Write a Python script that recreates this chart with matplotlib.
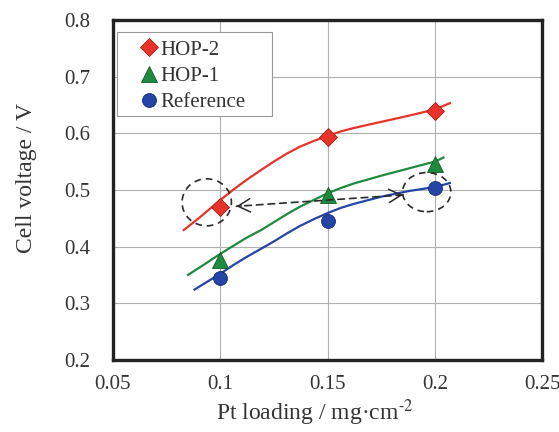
import matplotlib
matplotlib.use('Agg')
import matplotlib.pyplot as plt
from matplotlib.patches import Ellipse, Rectangle

plt.rcParams['font.family'] = ['Liberation Serif', 'DejaVu Serif']
plt.rcParams['mathtext.fontset'] = 'stix'

# measured points
loading = [0.1, 0.15, 0.2]
hop2 = [0.470, 0.594, 0.640]
hop1 = [0.377, 0.491, 0.546]
reference = [0.345, 0.445, 0.504]

# trend curves
hop2_fit_x = [0.083, 0.09, 0.1, 0.106, 0.112, 0.119, 0.125, 0.131, 0.137, 0.144, 0.15,
              0.156, 0.162, 0.175, 0.188, 0.2, 0.207]
hop2_fit_y = [0.429, 0.450, 0.482, 0.500, 0.517, 0.535, 0.550, 0.564, 0.576, 0.587, 0.595,
              0.603, 0.609, 0.620, 0.631, 0.642, 0.653]
hop1_fit_x = [0.085, 0.092, 0.1, 0.106, 0.112, 0.119, 0.125, 0.131, 0.137, 0.144, 0.15,
              0.156, 0.162, 0.175, 0.188, 0.2, 0.204]
hop1_fit_y = [0.350, 0.367, 0.387, 0.401, 0.415, 0.429, 0.443, 0.457, 0.470, 0.483, 0.494,
              0.503, 0.511, 0.525, 0.538, 0.550, 0.557]
ref_fit_x = [0.088, 0.094, 0.1, 0.106, 0.112, 0.119, 0.125, 0.131, 0.137, 0.144, 0.15,
             0.156, 0.162, 0.175, 0.188, 0.2, 0.207]
ref_fit_y = [0.324, 0.338, 0.352, 0.367, 0.381, 0.396, 0.409, 0.423, 0.436, 0.449, 0.459,
             0.468, 0.475, 0.488, 0.498, 0.505, 0.512]

# dashed circles and arrow (data coords)
circle_left = (0.0937, 0.478)
circle_right = (0.1962, 0.496)
arrow_left = (0.1075, 0.471)
arrow_right = (0.185, 0.491)

red, green, blue = '#e8332b', '#1f8a3e', '#2444a6'
text_col = '#333333'
dash_col = '#2a2a2a'

fig = plt.figure(figsize=(5.59, 4.32), dpi=100)
ax = fig.add_axes([0.202, 0.167, 0.768, 0.787])

ax.plot(hop2_fit_x, hop2_fit_y, color=red, lw=1.6, zorder=3)
ax.plot(hop1_fit_x, hop1_fit_y, color=green, lw=1.6, zorder=3)
ax.plot(ref_fit_x, ref_fit_y, color=blue, lw=1.6, zorder=3)

ax.plot(loading, hop2, 'D', color=red, mec='#a01e18', ms=9.5, mew=0.6, ls='none',
        label='HOP-2', zorder=4)
ax.plot(loading, hop1, '^', color=green, mec='#0f5a25', ms=11, mew=0.6, ls='none',
        label='HOP-1', zorder=4)
ax.plot(loading, reference, 'o', color=blue, mec='#142a70', ms=10, mew=0.6, ls='none',
        label='Reference', zorder=4)

ax.add_patch(Ellipse(circle_left, 0.023, 0.083, fill=False, ec=dash_col, lw=1.2,
                     ls=(0, (4, 3)), zorder=5))
ax.add_patch(Ellipse(circle_right, 0.0225, 0.069, fill=False, ec=dash_col, lw=1.2,
                     ls=(0, (4, 3)), zorder=5))
# dashed shaft, then solid open heads at both ends
ax.annotate('', xy=arrow_left, xytext=arrow_right,
            arrowprops=dict(arrowstyle='-', color=dash_col, lw=1.2,
                            ls=(0, (4, 3)), shrinkA=0, shrinkB=0), zorder=5)
for tip, tail in [(arrow_left, arrow_right), (arrow_right, arrow_left)]:
    stub = (tip[0] + 0.03 * (tail[0] - tip[0]), tip[1] + 0.03 * (tail[1] - tip[1]))
    ax.annotate('', xy=tip, xytext=stub,
                arrowprops=dict(arrowstyle='->, head_length=0.55, head_width=0.3',
                                color=dash_col, lw=1.1, mutation_scale=16,
                                shrinkA=0, shrinkB=0), zorder=5)

ax.set_xlim(0.05, 0.25)
ax.set_ylim(0.2, 0.8)
ax.set_xticks([0.05, 0.1, 0.15, 0.2, 0.25])
ax.set_xticklabels(['0.05', '0.1', '0.15', '0.2', '0.25'])
ax.set_yticks([0.2, 0.3, 0.4, 0.5, 0.6, 0.7, 0.8])
ax.set_yticklabels(['0.2', '0.3', '0.4', '0.5', '0.6', '0.7', '0.8'])
ax.tick_params(length=0, labelsize=15, pad=11, colors=text_col)
ax.tick_params(axis='y', pad=16)
ax.grid(True, color='#b0b0b0', lw=0.8)
ax.set_axisbelow(True)
for s in ax.spines.values():
    s.set_linewidth(2.4)
    s.set_color('#222222')

ax.set_xlabel(r'Pt loading / mg·cm$^{\text{-}2}$', fontsize=17, color=text_col)
ax.set_ylabel('Cell voltage / V', fontsize=17, color=text_col)
ax.xaxis.set_label_coords(0.47, -0.11)
ax.yaxis.set_label_coords(-0.178, 0.535)

# legend box drawn separately (wide side margins, tight top/bottom)
ax.add_patch(Rectangle((0.009, 0.718), 0.362, 0.247, transform=ax.transAxes,
                       fc='white', ec='#999999', lw=0.8, zorder=6))
leg = ax.legend(loc='upper left', bbox_to_anchor=(0.048, 0.962), fontsize=15,
                frameon=False, handlelength=0.8, handletextpad=0.15, borderpad=0.35,
                labelspacing=0.32, borderaxespad=0)
leg.set_zorder(7)
for t in leg.get_texts():
    t.set_color(text_col)

fig.savefig('out.png', dpi=100)
